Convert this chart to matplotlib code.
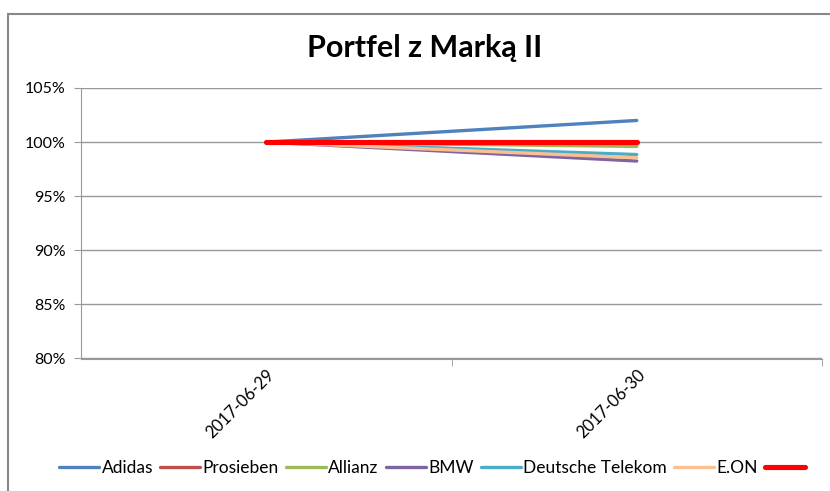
import matplotlib.pyplot as plt
from matplotlib.patches import Rectangle

dates = ["2017-06-29", "2017-06-30"]
series_names = ["Adidas", "Prosieben", "Allianz", "BMW", "Deutsche Telekom", "E.ON", ""]
adidas = [100.0, 102.0]
prosieben = [100.0, 100.0]
allianz = [100.0, 99.6]
bmw = [100.0, 98.25]
telekom = [100.0, 98.85]
eon = [100.0, 98.55]
portfel = [100.0, 100.0]

colors = ["#4F81BD", "#C0504D", "#9BBB59", "#8064A2", "#4BACC6", "#FAC090", "#FF0000"]
widths = [2.4, 2.4, 2.4, 2.4, 2.4, 2.4, 3.7]

plt.rcParams["font.family"] = ["Lato", "DejaVu Sans"]

fig = plt.figure(figsize=(8.3, 4.91), dpi=100)
fig.patches.append(Rectangle((8 / 830, -0.1), 1.1, 1 - 14 / 491 + 0.1,
                             transform=fig.transFigure, fill=False,
                             edgecolor="#888888", linewidth=1.5))

ax = fig.add_axes([81 / 830, 132.5 / 491, 741 / 830, 270.5 / 491])

x = list(range(len(dates)))
all_series = [adidas, prosieben, allianz, bmw, telekom, eon, portfel]
handles = []
for vals, c, lw in zip(all_series, colors, widths):
    h, = ax.plot(x, vals, color=c, linewidth=lw, solid_capstyle="round")
    handles.append(h)

ax.set_xlim(-0.5, 1.5)
ax.set_ylim(80, 105)
ax.set_yticks([80, 85, 90, 95, 100, 105])
ax.set_yticklabels([f"{v}%" for v in [80, 85, 90, 95, 100, 105]], fontsize=11.5)
ax.yaxis.grid(True, color="#999999", linewidth=1)
ax.set_axisbelow(True)
ax.tick_params(axis="y", length=5, color="#999999", pad=6)

ax.set_xticks(x)
ax.set_xticklabels(dates, rotation=45, ha="right", rotation_mode="anchor", fontsize=12)
ax.tick_params(axis="x", which="major", length=0, pad=6)
ax.set_xticks([0.5, 1.5], minor=True)
ax.tick_params(axis="x", which="minor", length=5, color="#999999")

for s in ["top", "right"]:
    ax.spines[s].set_visible(False)
ax.spines["left"].set_color("#999999")
ax.spines["bottom"].set_color("#999999")

fig.text(0.512, 0.903, "Portfel z Marką II", ha="center", va="center",
         fontsize=22, fontweight="bold")

fig.legend(handles, series_names, loc="center", bbox_to_anchor=(0.522, 0.047),
           ncol=7, frameon=False, fontsize=12.5, handlelength=2.3,
           handletextpad=0.15, columnspacing=0.4)

fig.savefig("out.png", dpi=100)
